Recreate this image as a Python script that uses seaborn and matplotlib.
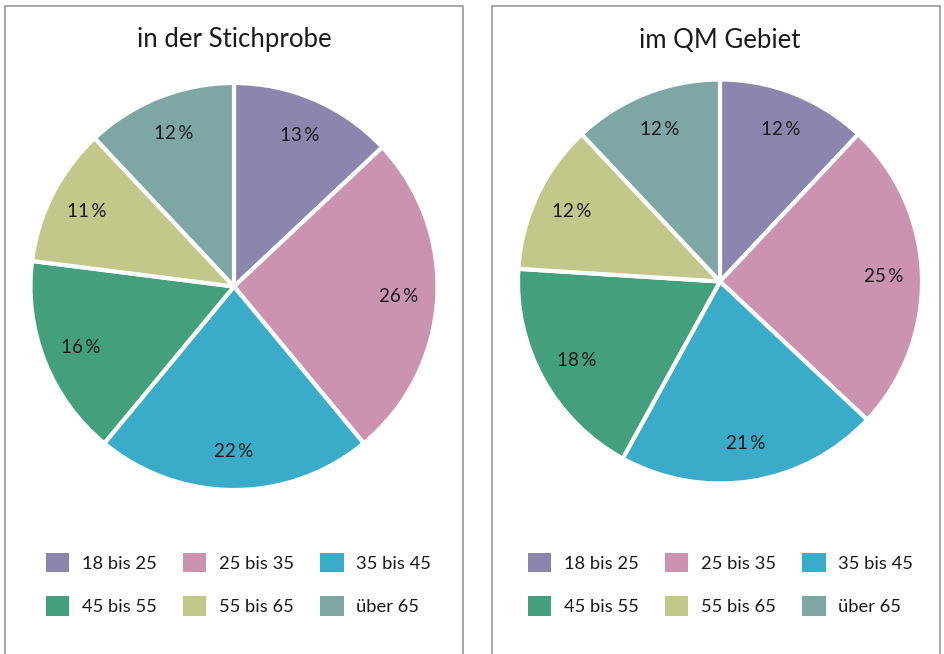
import matplotlib
matplotlib.use("Agg")
import matplotlib.pyplot as plt
from matplotlib.patches import Patch, Rectangle
import seaborn as sns

categories = ["18 bis 25", "25 bis 35", "35 bis 45", "45 bis 55", "55 bis 65", "über 65"]
stichprobe = [13, 26, 22, 16, 11, 12]
qm_gebiet = [12, 25, 21, 18, 12, 12]
titles = ["in der Stichprobe", "im QM Gebiet"]
colors = ["#8a86ae", "#cc93b0", "#3aacca", "#44a07c", "#c2c88a", "#7ea6a5"]

sns.set_theme(style="white")
plt.rcParams["font.family"] = ["Lato", "DejaVu Sans"]

W, H = 945, 654
fig = plt.figure(figsize=(W / 100, H / 100), dpi=100)

panels = [
    dict(values=stichprobe, title=titles[0], cx=234, cy=286.5, r=203.5, fx0=5.5, fx1=463, legx=31),
    dict(values=qm_gebiet, title=titles[1], cx=720, cy=281.5, r=202, fx0=492.5, fx1=940, legx=513),
]

for p in panels:
    fig.add_artist(Rectangle((p["fx0"] / W, -0.02), (p["fx1"] - p["fx0"]) / W, (H - 5.5) / H + 0.02,
                             transform=fig.transFigure, fill=False, edgecolor="#9a9a9a", linewidth=1.2))
    ax = fig.add_axes([(p["cx"] - p["r"]) / W, (H - p["cy"] - p["r"]) / H, 2 * p["r"] / W, 2 * p["r"] / H])
    vals = p["values"]
    ax.pie(vals, colors=colors, startangle=90, counterclock=False,
           labels=[f"{v}\u2009%" for v in vals], labeldistance=0.81,
           textprops=dict(fontsize=13.5, color="#1a1a1a", ha="center", va="center"),
           wedgeprops=dict(edgecolor="white", linewidth=3))
    ax.set_xlim(-1, 1)
    ax.set_ylim(-1, 1)
    ax.set_aspect("equal")
    ax.axis("off")
    fig.text(p["cx"] / W, 1 - 40 / H, p["title"], ha="center", va="center", fontsize=18.5, color="#1a1a1a")
    handles = [Patch(facecolor=c, edgecolor="none") for c in colors]
    order = [0, 3, 1, 4, 2, 5]
    fig.legend([handles[i] for i in order], [categories[i] for i in order],
               loc="upper left", bbox_to_anchor=(p["legx"] / W, 1 - 538 / H), ncol=3,
               frameon=False, fontsize=13.2, handlelength=1.26, handleheight=1.26,
               handletextpad=0.7, columnspacing=1.45, labelspacing=1.3, borderpad=0.3,
               labelcolor="#1a1a1a")

fig.savefig("out.png", dpi=100, facecolor="white")
